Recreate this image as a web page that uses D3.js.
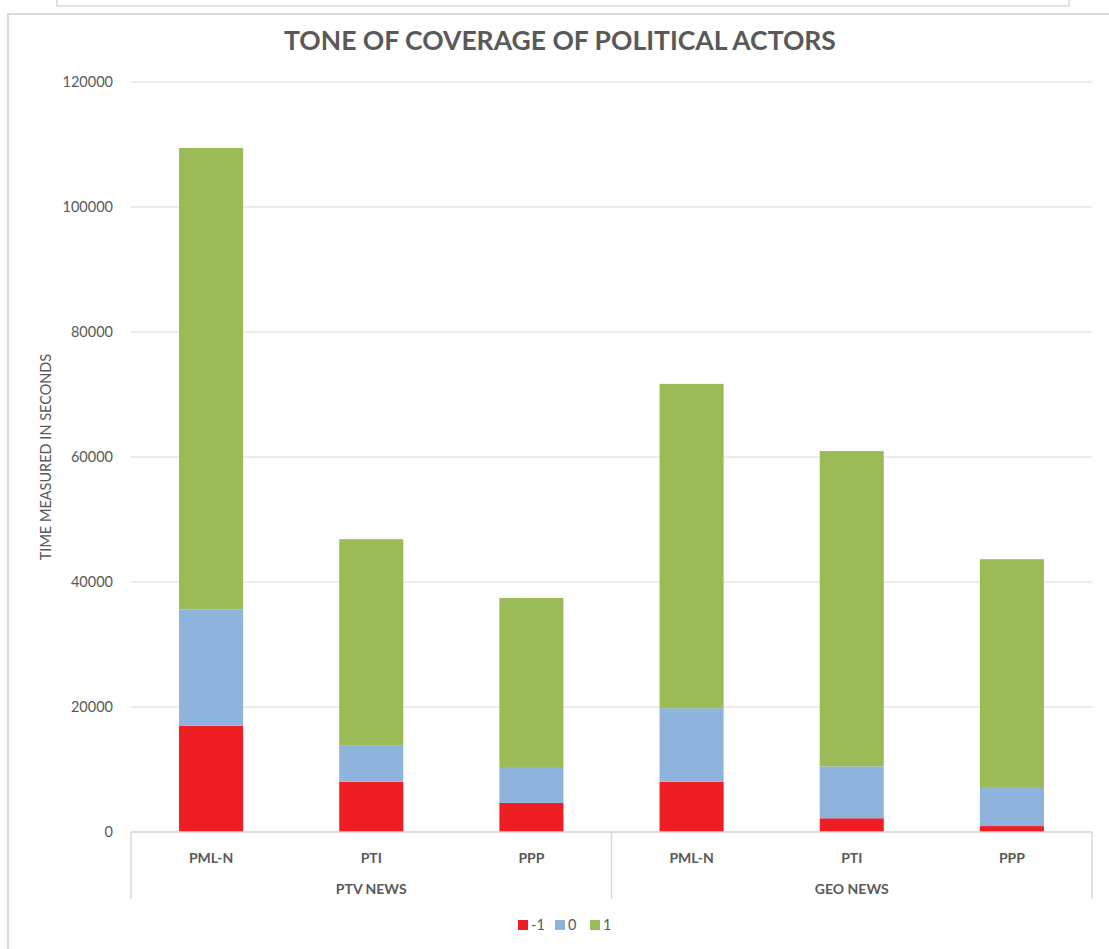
<!DOCTYPE html>
<html>
<head>
<meta charset="utf-8">
<script src="https://cdn.jsdelivr.net/npm/d3@7"></script>
<style>
  body { margin: 0; background: #fff; }
  svg { display: block; font-family: Lato, "Open Sans", sans-serif; }
</style>
</head>
<body>
<div id="chart"></div>
<script>
// categories
let channels = ["PTV NEWS", "GEO NEWS"];
let parties = ["PML-N", "PTI", "PPP"];
let tones = ["-1", "0", "1"];

// series values (seconds), order: PTV PML-N, PTI, PPP, GEO PML-N, PTI, PPP
let toneNeg = [17000, 8050, 4650, 8050, 2200, 950];
let toneNeutral = [18600, 5850, 5600, 11750, 8300, 6250];
let tonePos = [73850, 32950, 27200, 51900, 50450, 36450];

let yTicks = [0, 20000, 40000, 60000, 80000, 100000, 120000];

let colors = ["#ee1f24", "#8eb4de", "#9bbb59"];

let rows = [];
channels.forEach(function(c, ci) {
    parties.forEach(function(p, pi) {
        let i = ci * parties.length + pi;
        rows.push({key: c + "|" + p, channel: c, party: p,
                   "-1": toneNeg[i], "0": toneNeutral[i], "1": tonePos[i]});
    });
});

let W = 1109, H = 949;
let margin = {top: 82, left: 131, right: 17, bottom: 117};
let width = W - margin.left - margin.right;
let height = H - margin.top - margin.bottom;

let svg = d3.select("#chart").append("svg")
    .attr("width", W)
    .attr("height", H);

// frames around the chart (screenshot of a document)
svg.append("rect")
    .attr("x", 57).attr("y", -10)
    .attr("width", 1012).attr("height", 16)
    .attr("fill", "none").attr("stroke", "#d9d9d9").attr("stroke-width", 1.5);
svg.append("rect")
    .attr("x", 8).attr("y", 14)
    .attr("width", 1120).attr("height", 960)
    .attr("fill", "none").attr("stroke", "#d9d9d9").attr("stroke-width", 2);

svg.append("text")
    .attr("x", 560).attr("y", 50)
    .attr("text-anchor", "middle")
    .style("font-size", "26.5px")
    .style("font-weight", "bold")
    .style("fill", "#595959")
    .text("TONE OF COVERAGE OF POLITICAL ACTORS");

let g = svg.append("g")
    .attr("transform", "translate(" + margin.left + "," + margin.top + ")");

let x = d3.scaleBand()
    .domain(rows.map(d => d.key))
    .range([0, width])
    .paddingInner(0.6)
    .paddingOuter(0.3);

let y = d3.scaleLinear()
    .domain([0, 120000])
    .range([height, 0]);

// gridlines
g.append("g")
    .selectAll("line")
    .data(yTicks)
    .enter()
    .append("line")
    .attr("x1", 0).attr("x2", width)
    .attr("y1", d => y(d)).attr("y2", d => y(d))
    .attr("stroke", "#d9d9d9")
    .attr("stroke-width", 1);

let yAxis = d3.axisLeft(y)
    .tickValues(yTicks)
    .tickSize(0)
    .tickPadding(18)
    .tickFormat(d3.format("d"));

g.append("g")
    .attr("class", "axis y-axis")
    .call(yAxis)
    .call(a => a.select(".domain").remove())
    .selectAll("text")
    .style("font-family", "Lato, 'Open Sans', sans-serif")
    .style("font-size", "14.5px")
    .style("fill", "#595959");

g.append("text")
    .attr("transform", "translate(-80," + (height / 2) + ") rotate(-90)")
    .attr("text-anchor", "middle")
    .style("font-size", "14.5px")
    .style("fill", "#595959")
    .text("TIME MEASURED IN SECONDS");

// stacked bars
let stack = d3.stack().keys(tones);
let series = stack(rows);

g.append("g")
    .selectAll("g.series")
    .data(series)
    .enter()
    .append("g")
    .attr("class", "series")
    .attr("fill", (d, i) => colors[i])
    .selectAll("rect")
    .data(d => d)
    .enter()
    .append("rect")
    .attr("x", d => x(d.data.key))
    .attr("y", d => y(d[1]))
    .attr("width", x.bandwidth())
    .attr("height", d => y(d[0]) - y(d[1]));

// x axis: party labels and channel groups
g.append("line")
    .attr("x1", 0).attr("x2", width)
    .attr("y1", height).attr("y2", height)
    .attr("stroke", "#d9d9d9").attr("stroke-width", 1.5);

g.append("g")
    .selectAll("text.party")
    .data(rows)
    .enter()
    .append("text")
    .attr("class", "party")
    .attr("x", d => x(d.key) + x.bandwidth() / 2)
    .attr("y", height + 31)
    .attr("text-anchor", "middle")
    .style("font-size", "14px")
    .style("font-weight", "bold")
    .style("fill", "#595959")
    .text(d => d.party);

let groupW = width / channels.length;

g.append("g")
    .selectAll("line.sep")
    .data(d3.range(channels.length + 1))
    .enter()
    .append("line")
    .attr("x1", i => i * groupW).attr("x2", i => i * groupW)
    .attr("y1", height).attr("y2", height + 67)
    .attr("stroke", "#d9d9d9").attr("stroke-width", 1.5);

g.append("g")
    .selectAll("text.channel")
    .data(channels)
    .enter()
    .append("text")
    .attr("class", "channel")
    .attr("x", (d, i) => i * groupW + groupW / 2)
    .attr("y", height + 62)
    .attr("text-anchor", "middle")
    .style("font-size", "14px")
    .style("font-weight", "bold")
    .style("fill", "#595959")
    .text(d => d);

// legend
let legend = svg.append("g")
    .attr("transform", "translate(518,920)");

let legendX = [0, 37, 72];
let item = legend.selectAll("g.item")
    .data(tones)
    .enter()
    .append("g")
    .attr("class", "item")
    .attr("transform", (d, i) => "translate(" + legendX[i] + ",0)");

item.append("rect")
    .attr("width", 10).attr("height", 10)
    .attr("fill", (d, i) => colors[i]);

item.append("text")
    .attr("x", 13).attr("y", 10)
    .style("font-size", "14.5px")
    .style("fill", "#595959")
    .text(d => d);
</script>
</body>
</html>
